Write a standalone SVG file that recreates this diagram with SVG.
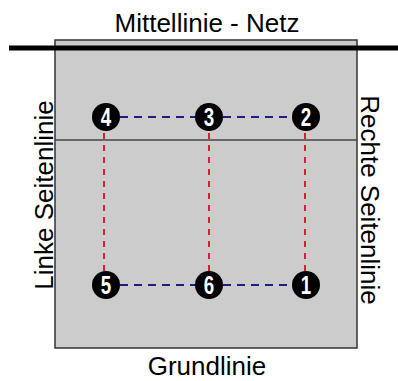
<svg xmlns="http://www.w3.org/2000/svg" width="398" height="381" viewBox="0 0 398 381">
<style>
.lbl{font-family:"Liberation Sans",Arial,sans-serif;font-size:26px;fill:#000}
.num{font-family:"Liberation Sans",Arial,sans-serif;font-size:25px;font-weight:bold;fill:#fff;text-anchor:middle}
.red{stroke:#d8202c;stroke-width:2;stroke-dasharray:6 6;fill:none}
.blue{stroke:#1e1e80;stroke-width:2;stroke-dasharray:8 6;fill:none}
</style>
<rect width="398" height="381" fill="#fff"/>
<g id="court">
<rect x="55" y="40" width="302" height="308" fill="#cccccc" stroke="#333" stroke-width="1.5"/>
<line x1="55" y1="140" x2="357" y2="140" stroke="#444" stroke-width="1.5"/>
<line x1="9" y1="48" x2="398" y2="48" stroke="#000" stroke-width="5"/>
</g>
<g id="labels">
<text class="lbl" x="207" y="32" text-anchor="middle">Mittellinie - Netz</text>
<text class="lbl" x="207" y="375" text-anchor="middle">Grundlinie</text>
<text class="lbl" transform="translate(53,195) rotate(-90)" text-anchor="middle">Linke Seitenlinie</text>
<text class="lbl" transform="translate(361,200) rotate(90)" text-anchor="middle">Rechte Seitenlinie</text>
</g>
<g id="connectors">
<line class="red" x1="104" y1="133" x2="104" y2="272"/>
<line class="red" x1="209" y1="133" x2="209" y2="272"/>
<line class="red" x1="305" y1="133" x2="305" y2="272"/>
<line class="blue" x1="120" y1="117" x2="195" y2="117"/>
<line class="blue" x1="223" y1="117" x2="292" y2="117"/>
<line class="blue" x1="120" y1="285" x2="195" y2="285"/>
<line class="blue" x1="223" y1="285" x2="292" y2="285"/>
</g>
<g id="n4"><circle cx="106" cy="117" r="14"/><text class="num" transform="translate(106,126) scale(0.75,1)">4</text></g>
<g id="n3"><circle cx="209" cy="117" r="14"/><text class="num" transform="translate(209,126) scale(0.75,1)">3</text></g>
<g id="n2"><circle cx="306" cy="117" r="14"/><text class="num" transform="translate(306,126) scale(0.75,1)">2</text></g>
<g id="n5"><circle cx="106" cy="285" r="14"/><text class="num" transform="translate(106,294) scale(0.75,1)">5</text></g>
<g id="n6"><circle cx="209" cy="285" r="14"/><text class="num" transform="translate(209,294) scale(0.75,1)">6</text></g>
<g id="n1"><circle cx="306" cy="285" r="14"/><text class="num" transform="translate(306,294) scale(0.75,1)">1</text></g>
</svg>
